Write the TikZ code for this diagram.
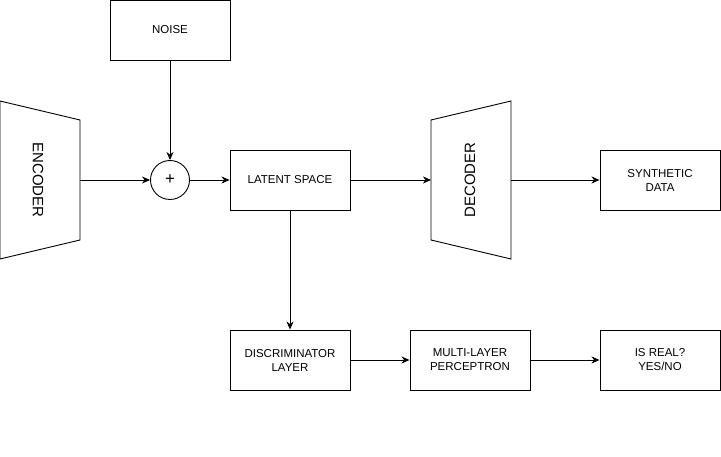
\documentclass[tikz,border=0pt]{standalone}
\usepackage{fontspec}
\setmainfont{Liberation Sans}
\usetikzlibrary{arrows.meta}
\begin{document}
\begin{tikzpicture}[x=1pt,y=-1pt,
  line width=0.9pt,
  box/.style={draw, minimum width=120pt, minimum height=60pt, inner sep=0pt, align=center, font=\fontsize{11.5}{14}\selectfont},
  arr/.style={-{Stealth[length=8pt,width=7pt,inset=2.5pt]}},
  lbl/.style={font=\fontsize{11.5}{14}\selectfont}]
\useasboundingbox (0,0) rectangle (721,457);
\fill[white] (0,0) rectangle (721,457);
% encoder
\draw (0,101) coordinate (e1) -- (80,120) -- (80,240) -- (0,259) -- cycle;
\node[lbl, rotate=-90] (enc) at (38,180) {\fontsize{15}{18}\selectfont ENCODER};
\coordinate (encout) at (80,180);
% decoder
\draw (431,120) -- (511,101) -- (511,259) -- (431,240) -- cycle;
\node[lbl, rotate=90] (dec) at (470,180) {\fontsize{15}{18}\selectfont DECODER};
\coordinate (decin) at (431,180);
\coordinate (decout) at (511,180);
% boxes
\node[box] (noise) at (170,30) {NOISE};
\node[draw, circle, minimum size=39pt, inner sep=0pt] (plus) at (170,180) {};
\node[font=\fontsize{17}{18}\selectfont, inner sep=0pt] (plussign) at (170,180) {+};
\node[box] (latent) at (290,180) {LATENT SPACE};
\node[box] (synth) at (660,180) {SYNTHETIC\\DATA};
\node[box] (disc) at (290,360) {DISCRIMINATOR\\LAYER};
\node[box] (mlp) at (470,360) {MULTI-LAYER\\PERCEPTRON};
\node[box] (real) at (660,360) {IS REAL?\\YES/NO};
% arrows
\draw[arr] (encout) -- (plus);
\draw[arr] (noise) -- (plus);
\draw[arr] (plus) -- (latent);
\draw[arr] (latent) -- (decin);
\draw[arr] (decout) -- (synth);
\draw[arr] (latent) -- (disc);
\draw[arr] (disc) -- (mlp);
\draw[arr] (mlp) -- (real);
\end{tikzpicture}
\end{document}
